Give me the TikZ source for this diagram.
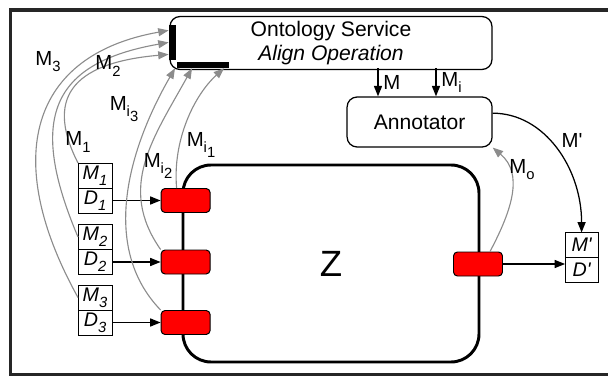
\documentclass[tikz,border=0pt]{standalone}
\usepackage{fontspec}
\setmainfont{Liberation Sans}
\usetikzlibrary{arrows.meta, positioning}

% lowered index, nested ones keep the same size
\newcommand{\lsub}[1]{\raisebox{-0.3em}{\fontsize{10.5}{11}\selectfont #1}}

\tikzset{
  service/.style={draw, rounded corners=0.25cm, line width=0.9pt, align=center, font=\fontsize{15}{17}\selectfont},
  port/.style={draw, fill=red, rounded corners=0.1cm, line width=0.7pt, minimum width=1.225cm, minimum height=0.6cm, inner sep=0},
  doccell/.style={draw, line width=0.7pt, minimum width=0.85cm, minimum height=0.625cm, inner sep=0, outer sep=0, font=\fontsize{14}{14}\selectfont\itshape},
  bar/.style={fill=black, inner sep=0},
  flow/.style={-{Triangle[length=2.6mm, width=2mm]}, line width=0.9pt},
  metaflow/.style={-{Triangle[length=2.6mm, width=2mm]}, line width=0.8pt, black!45},
  lbl/.style={font=\fontsize{14.5}{15}\selectfont}
}

\begin{document}
\begin{tikzpicture}
\useasboundingbox (0,0) rectangle (15.2,9.4);
% outer frame, open on the right
\draw[line width=2.2pt, black!85] (15.4,9.15) -- (0.27,9.15) -- (0.27,0.04) -- (15.4,0.04);

% ontology service and annotator
\node[service, minimum width=8.05cm, minimum height=1.25cm] (onto) at (8.275,8.325)
   {Ontology Service\\\textit{Align Operation}};
\node[service, minimum width=3.625cm, minimum height=1.25cm] (ann) at (10.49,6.35) {Annotator};
\node[bar, minimum width=0.175cm, minimum height=0.875cm] (inbar) at (4.31,8.34) {};
\node[bar, minimum width=1.3cm, minimum height=0.15cm] (outbar) at (5.075,7.775) {};

% component Z with its ports
\node[draw, line width=2.1pt, rounded corners=0.7cm, minimum width=7.4cm, minimum height=4.925cm,
   font=\fontsize{26}{28}\selectfont] (z) at (8.275,2.8125) {Z};
\node[port] (p1) at (4.64,4.3875) {};
\node[port] (p2) at (4.64,2.85) {};
\node[port] (p3) at (4.64,1.3375) {};
\node[port] (rp) at (11.95,2.8) {};

% input and output documents
\node[doccell] (m1) at (2.375,5.0125) {M\lsub{1}};
\node[doccell, below=0pt of m1] (d1) {D\lsub{1}};
\node[doccell] (m2) at (2.375,3.475) {M\lsub{2}};
\node[doccell, below=0pt of m2] (d2) {D\lsub{2}};
\node[doccell] (m3) at (2.375,1.9625) {M\lsub{3}};
\node[doccell, below=0pt of m3] (d3) {D\lsub{3}};
\node[doccell, minimum width=0.825cm] (mp) at (14.54,3.275) {M\textquotesingle};
\node[doccell, minimum width=0.825cm, below=0pt of mp] (dp) {D\textquotesingle};

% data
\draw[flow] (d1.east) -- (d1.east -| p1.west);
\draw[flow] (d2.east) -- (d2.east -| p2.west);
\draw[flow] (d3.east) -- (d3.east -| p3.west);
\draw[flow] (rp.east) -- (rp.east -| dp.west);

% alignments to the annotator
\coordinate (mout) at (9.45,7.7);
\coordinate (miout) at (10.9,7.7);
\draw[flow] (mout) -- (mout |- ann.north) node[lbl, right, midway] (lm) {M};
\draw[flow] (miout) -- (miout |- ann.north) node[lbl, right, midway] (lmi) {M\lsub{i}};
\draw[flow] ([yshift=0.22cm]ann.east) to[out=0, in=90, out distance=1.3cm, in distance=1.6cm] (mp.north);

% metadata sent to the ontology service
\draw[metaflow] (m1.north west) to[out=117, in=185, out distance=2cm, in distance=2.2cm] ([yshift=-0.3cm]inbar.west);
\draw[metaflow] (m2.west) to[out=113, in=190, out distance=3.2cm, in distance=3cm] (inbar.west);
\draw[metaflow] (m3.west) to[out=119, in=190, out distance=4cm, in distance=3.5cm] ([yshift=0.3cm]inbar.west);
\draw[metaflow] (p3.north west) to[out=134, in=240, out distance=2.2cm, in distance=2.3cm] ([xshift=-0.7cm]outbar.south);
\draw[metaflow] (p2.north west) to[out=125, in=241, out distance=1.9cm, in distance=2cm] ([xshift=-0.275cm]outbar.south);
\draw[metaflow] ([xshift=0.4cm]p1.north west) to[out=95, in=222, out distance=1.2cm, in distance=1cm] ([xshift=0.525cm]outbar.south);
\draw[metaflow] ([xshift=0.3cm]rp.north) to[out=62, in=-40, out distance=1.2cm, in distance=1cm] (ann.south east);

% labels
\node[lbl] (lm3) at (1.2,7.85) {M\lsub{3}};
\node[lbl] (lm2) at (2.7,7.75) {M\lsub{2}};
\node[lbl] (lmi3) at (3.1,6.675) {M\lsub{i\raisebox{-0.3em}{3}}};
\node[lbl] (lm1) at (1.95,5.85) {M\lsub{1}};
\node[lbl] (lmi1) at (5.025,5.775) {M\lsub{i\raisebox{-0.3em}{1}}};
\node[lbl] (lmi2) at (3.95,5.25) {M\lsub{i\raisebox{-0.3em}{2}}};
\node[lbl] (lmo) at (13.05,5.15) {M\lsub{o}};
\node[lbl] (lmp) at (14.3,5.9) {M\textquotesingle};
\end{tikzpicture}
\end{document}
